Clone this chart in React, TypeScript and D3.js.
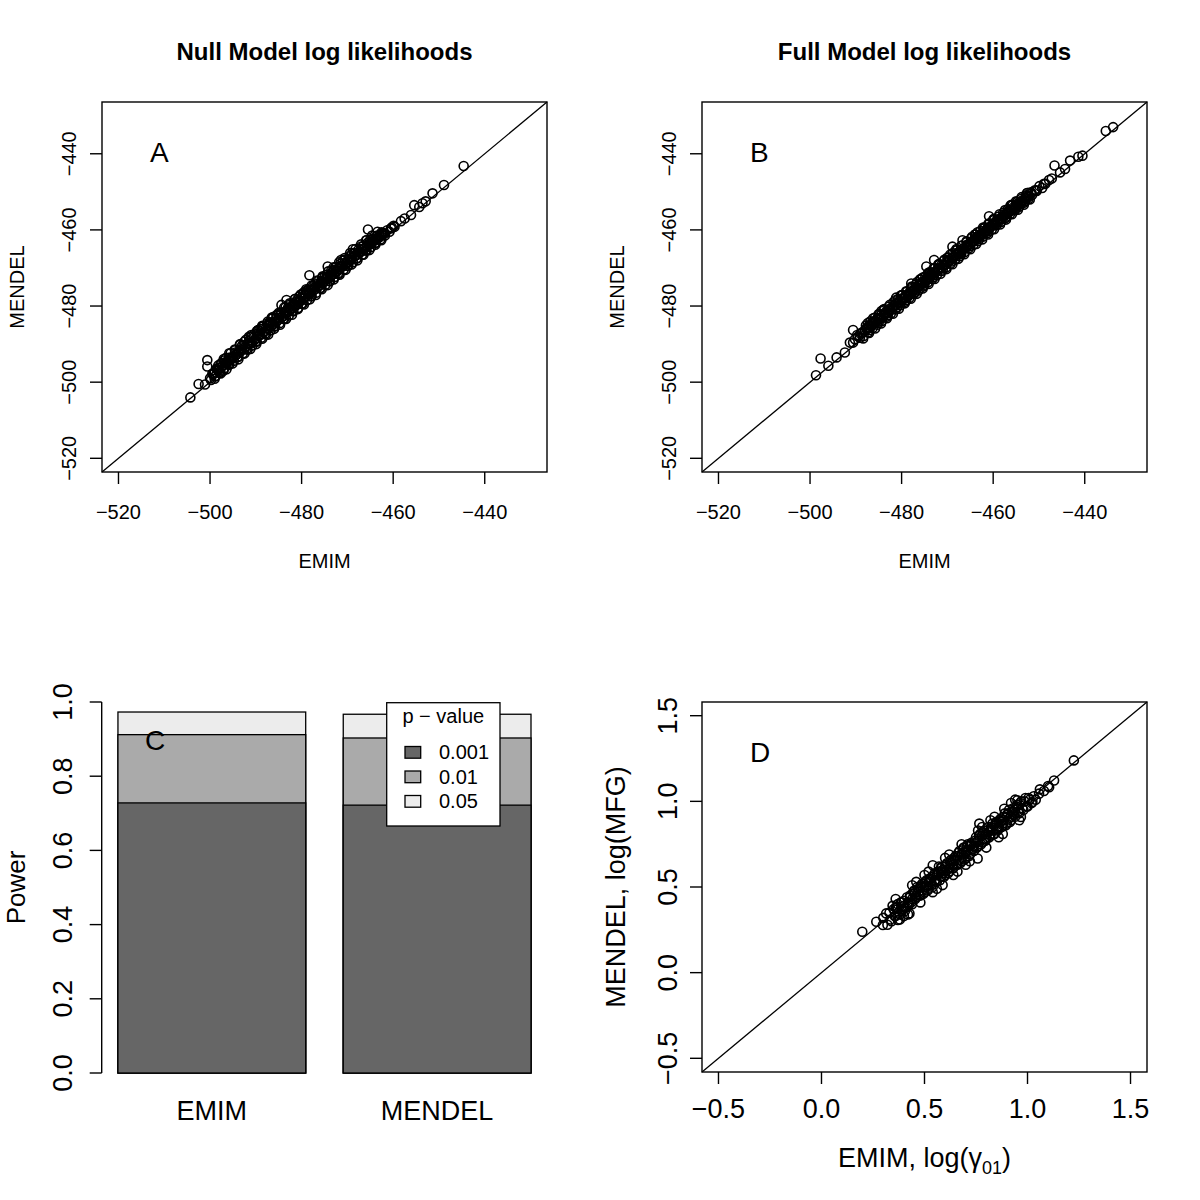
import React from "react";
import * as d3 from "d3";

// Panel A: null model log likelihoods (EMIM vs MENDEL)
const nullEmim = [
  -504.3, -502.5, -500.6, -500.6, -501.1, -500.0, -498.2, -498.9, -497.1, -495.6,
  -484.4, -483.3, -481.8, -479.7, -478.3, -474.3, -471.4, -468.8, -465.5, -465.9,
  -463.0, -461.9, -459.7, -457.5, -456.1, -455.4, -454.3, -453.6, -452.9, -451.4,
  -448.9, -444.6,
  -499.5, -499.0, -498.6, -498.1, -497.7, -497.2, -496.8, -496.3, -495.9, -495.4,
  -495.0, -494.5, -494.1, -493.6, -493.2, -492.7, -492.3, -491.8, -491.4, -490.9,
  -490.5, -490.0, -489.6, -489.1, -488.7, -488.2, -487.8, -487.3, -486.9, -486.4,
  -486.0, -485.5, -485.1, -484.6, -484.2, -483.7, -483.3, -482.8, -482.4, -481.9,
  -481.5, -481.0, -480.6, -480.1, -479.7, -479.2, -478.8, -478.3, -477.9, -477.4,
  -477.0, -476.5, -476.1, -475.6, -475.2, -474.7, -474.3, -473.8, -473.4, -472.9,
  -472.5, -472.0, -471.6, -471.1, -470.7, -470.2, -469.8, -469.3, -468.9, -468.4,
  -468.0, -467.5, -467.1, -466.6, -466.2, -465.7, -465.3, -464.8, -464.4, -463.9,
  -463.5, -463.0, -462.6, -462.1,
  -498.0, -496.0, -494.0, -492.0, -490.0, -488.0, -486.0, -484.0, -482.0, -480.0,
  -478.0, -476.0, -474.0, -472.0, -470.0, -468.0, -466.0, -464.0, -497.0, -493.0,
  -489.0, -485.0, -481.0, -477.0, -473.0, -469.0, -465.0, -491.0, -487.0, -483.0,
  -479.0, -475.0, -471.0, -467.0, -486.5, -489.5,
  -497.5, -496.5, -495.5, -494.5, -493.5, -492.5, -491.5, -490.5, -489.5, -488.5,
  -487.5, -486.5, -485.5, -484.5, -483.5, -482.5, -481.5, -480.5, -479.5, -478.5,
  -477.5, -476.5, -475.5, -474.5, -473.5, -472.5, -471.5, -470.5, -469.5, -468.5,
  -467.5, -466.5, -465.5, -464.5, -463.5, -462.5, -499.2, -497.9, -496.6, -495.3,
  -499.8, -498.8, -497.8, -496.8, -495.8, -494.8, -493.8, -492.8, -491.8, -490.8,
  -489.8, -488.8, -487.8, -486.8, -485.8, -484.8, -483.8, -482.8, -481.8, -480.8,
  -479.8, -478.8, -477.8, -476.8, -475.8, -474.8, -473.8, -472.8, -471.8, -470.8,
  -469.8, -468.8, -467.8, -466.8, -465.8, -464.8, -463.8, -462.8, -461.8, -460.8,
  -498.4, -496.1, -493.9, -491.6, -489.3, -487.1, -484.9, -482.6, -480.4, -478.1,
  -475.9, -473.6, -471.4, -469.1, -466.9, -464.6, -462.4, -460.5, -459.9, -458.3,
  -499.3, -498.3, -497.3, -496.3, -495.3, -494.3, -493.3, -492.3, -491.3, -490.3,
  -489.3, -488.3, -487.3, -486.3, -485.3, -484.3, -483.3, -482.3, -481.3, -480.3,
  -479.3, -478.3, -477.3, -476.3, -475.3, -474.3, -473.3, -472.3, -471.3, -470.3,
  -469.3, -468.3, -467.3, -466.3, -465.3, -464.3, -463.3, -462.3, -461.3, -460.3,
  -497.0, -495.8, -494.6, -493.4, -492.2, -491.0, -489.8, -488.6, -487.4, -486.2,
  -485.0, -483.8, -482.6, -481.4, -480.2, -479.0, -477.8, -476.6, -475.4, -474.2,
  -473.0, -471.8, -470.6, -469.4, -468.2, -467.0, -465.8, -464.6, -463.4,
  -499.0, -497.7, -496.4, -495.1, -493.8, -492.5, -491.2, -489.9, -488.6, -487.3,
  -486.0, -484.7, -483.4, -482.1, -480.8, -479.5, -478.2, -476.9, -475.6, -474.3,
  -473.0, -471.7, -470.4, -469.1, -467.8, -466.5, -465.2, -463.9, -462.6,
];
const nullMendel = [
  -504.0, -500.5, -494.2, -495.9, -500.6, -499.0, -495.6, -498.5, -497.0, -493.6,
  -479.7, -478.4, -479.3, -476.7, -471.9, -469.6, -467.9, -465.1, -459.9, -462.7,
  -461.4, -461.0, -459.2, -457.0, -456.1, -453.5, -454.0, -453.0, -452.5, -450.4,
  -448.2, -443.2,
  -497.8, -497.6, -496.5, -496.9, -495.2, -495.6, -494.9, -494.8, -493.6, -494.0,
  -493.3, -492.2, -492.6, -491.9, -491.4, -490.3, -490.9, -489.9, -489.0, -489.5,
  -488.3, -488.6, -487.2, -487.6, -486.1, -486.7, -485.9, -485.1, -484.6, -484.9,
  -484.1, -483.2, -483.6, -482.4, -482.8, -481.5, -481.9, -480.6, -481.0, -479.9,
  -479.6, -478.8, -479.0, -477.9, -478.1, -477.0, -476.3, -476.6, -475.8, -475.4,
  -475.0, -474.2, -474.5, -473.4, -473.6, -472.8, -472.2, -472.3, -471.2, -471.5,
  -470.9, -470.3, -469.8, -469.6, -468.7, -468.9, -467.8, -467.9, -467.2, -466.9,
  -466.6, -465.8, -465.8, -465.0, -464.9, -464.3, -463.7, -463.6, -462.9, -462.7,
  -462.4, -461.9, -461.2, -460.9,
  -497.3, -495.2, -493.4, -491.3, -489.3, -487.3, -485.4, -483.4, -481.3, -479.4,
  -477.4, -475.3, -473.4, -471.4, -469.4, -467.5, -465.4, -463.5, -494.3, -490.4,
  -486.0, -482.2, -478.4, -474.1, -470.5, -466.3, -462.6, -488.1, -484.3, -480.5,
  -476.0, -472.3, -468.1, -464.4, -483.0, -486.4,
  -495.0, -493.6, -492.4, -491.6, -490.2, -489.4, -488.1, -487.6, -486.3, -485.4,
  -484.6, -483.3, -482.4, -481.7, -480.3, -479.6, -478.2, -477.5, -476.4, -475.6,
  -474.7, -473.5, -472.6, -471.8, -470.6, -469.7, -468.9, -467.8, -466.9, -466.0,
  -465.1, -464.2, -463.3, -462.3, -461.5, -460.6, -497.7, -496.2, -495.0, -493.8,
  -499.4, -498.4, -497.5, -496.3, -495.4, -494.4, -493.3, -492.4, -491.5, -490.4,
  -489.4, -488.3, -487.5, -486.4, -485.3, -484.5, -483.4, -482.5, -481.4, -480.5,
  -479.4, -478.5, -477.4, -476.5, -475.3, -474.4, -473.5, -472.4, -471.5, -470.4,
  -469.4, -468.5, -467.4, -466.5, -465.4, -464.5, -463.4, -462.5, -461.5, -460.5,
  -496.7, -494.3, -492.2, -489.7, -487.6, -485.2, -483.1, -480.8, -478.5, -476.4,
  -474.0, -471.9, -469.5, -467.4, -465.0, -462.9, -460.9, -459.6, -458.9, -457.7,
  -497.9, -496.7, -495.8, -494.9, -493.7, -492.8, -491.9, -490.7, -489.8, -488.9,
  -487.7, -486.8, -485.9, -484.7, -483.8, -482.9, -481.7, -480.8, -479.9, -478.7,
  -477.8, -476.9, -475.7, -474.8, -473.9, -472.7, -471.8, -470.9, -469.7, -468.8,
  -467.9, -466.7, -465.8, -464.9, -463.7, -462.9, -462.0, -461.0, -460.1, -459.4,
  -493.9, -492.4, -491.4, -490.0, -488.9, -487.6, -486.6, -485.2, -484.1, -482.9,
  -481.8, -480.4, -479.3, -478.1, -477.0, -475.6, -474.6, -473.3, -472.2, -470.9,
  -469.8, -468.5, -467.4, -466.1, -465.0, -463.8, -462.7, -461.5, -460.5,
  -499.1, -497.7, -496.6, -495.1, -494.0, -492.5, -491.3, -490.0, -488.6, -487.5,
  -486.0, -484.9, -483.4, -482.3, -480.8, -479.6, -478.2, -477.1, -475.6, -474.5,
  -473.0, -471.8, -470.5, -469.1, -468.0, -466.5, -465.3, -463.9, -462.7,
];

// Panel B: full model log likelihoods
const fullEmim = [
  -498.7, -497.7, -496.0, -494.2, -492.4, -490.6, -490.6, -489.1, -487.7, -486.2,
  -484.4, -481.2, -477.9, -474.6, -472.9, -468.9, -466.7, -460.9, -452.5, -449.3,
  -447.8, -446.6, -445.4, -444.3, -443.2, -441.4, -440.5, -435.4, -433.8, -451.5,
  -450.5, -448.6,
  -488.0, -487.5, -487.1, -486.6, -486.2, -485.7, -485.3, -484.8, -484.4, -483.9,
  -483.5, -483.0, -482.6, -482.1, -481.7, -481.2, -480.8, -480.3, -479.9, -479.4,
  -479.0, -478.5, -478.1, -477.6, -477.2, -476.7, -476.3, -475.8, -475.4, -474.9,
  -474.5, -474.0, -473.6, -473.1, -472.7, -472.2, -471.8, -471.3, -470.9, -470.4,
  -470.0, -469.5, -469.1, -468.6, -468.2, -467.7, -467.3, -466.8, -466.4, -465.9,
  -465.5, -465.0, -464.6, -464.1, -463.7, -463.2, -462.8, -462.3, -461.9, -461.4,
  -461.0, -460.5, -460.1, -459.6, -459.2, -458.7, -458.3, -457.8, -457.4, -456.9,
  -456.5, -456.0, -455.6, -455.1, -454.7, -454.2, -453.8, -453.3, -452.9, -452.4,
  -487.0, -485.0, -483.0, -481.0, -479.0, -477.0, -475.0, -473.0, -471.0, -469.0,
  -467.0, -465.0, -463.0, -461.0, -459.0, -457.0, -455.0, -453.0, -484.0, -480.0,
  -476.0, -472.0, -468.0, -464.0, -460.0, -456.0, -478.0, -470.0, -462.0, -474.0,
  -487.8, -486.8, -485.8, -484.8, -483.8, -482.8, -481.8, -480.8, -479.8, -478.8,
  -477.8, -476.8, -475.8, -474.8, -473.8, -472.8, -471.8, -470.8, -469.8, -468.8,
  -467.8, -466.8, -465.8, -464.8, -463.8, -462.8, -461.8, -460.8, -459.8, -458.8,
  -457.8, -456.8, -455.8, -454.8, -453.8, -452.8, -451.8, -450.9, -449.9, -448.9,
  -488.3, -487.3, -486.3, -485.3, -484.3, -483.3, -482.3, -481.3, -480.3, -479.3,
  -478.3, -477.3, -476.3, -475.3, -474.3, -473.3, -472.3, -471.3, -470.3, -469.3,
  -468.3, -467.3, -466.3, -465.3, -464.3, -463.3, -462.3, -461.3, -460.3, -459.3,
  -458.3, -457.3, -456.3, -455.3, -454.3, -453.3, -452.3, -489.5, -489.0, -488.6,
  -487.2, -485.1, -482.9, -480.7, -478.6, -476.4, -474.2, -472.1, -469.9, -467.7,
  -465.6, -463.4, -461.2, -459.1, -456.9, -454.7, -452.6, -491.3, -490.2, -489.7,
  -488.6, -487.6, -486.6, -485.6, -484.6, -483.6, -482.6, -481.6, -480.6, -479.6,
  -478.6, -477.6, -476.6, -475.6, -474.6, -473.6, -472.6, -471.6, -470.6, -469.6,
  -468.6, -467.6, -466.6, -465.6, -464.6, -463.6, -462.6, -461.6, -460.6, -459.6,
  -458.6, -457.6, -456.6, -455.6, -454.6, -453.6, -452.6, -451.6, -450.6, -447.2,
  -487.4, -486.2, -485.0, -483.8, -482.6, -481.4, -480.2, -479.0, -477.8, -476.6,
  -475.4, -474.2, -473.0, -471.8, -470.6, -469.4, -468.2, -467.0, -465.8, -464.6,
  -463.4, -462.2, -461.0, -459.8, -458.6, -457.4, -456.2, -455.0, -453.8, -452.6,
  -488.4, -487.1, -485.8, -484.5, -483.2, -481.9, -480.6, -479.3, -478.0, -476.7,
  -475.4, -474.1, -472.8, -471.5, -470.2, -468.9, -467.6, -466.3, -465.0, -463.7,
  -462.4, -461.1, -459.8, -458.5, -457.2, -455.9, -454.6, -453.3, -452.0,
];
const fullMendel = [
  -498.2, -493.8, -495.7, -493.5, -492.2, -486.3, -489.6, -488.3, -485.9, -484.3,
  -481.3, -477.8, -474.1, -469.6, -467.9, -464.4, -462.7, -456.4, -450.3, -449.0,
  -446.9, -443.1, -444.9, -444.0, -441.8, -440.8, -440.5, -434.0, -433.0, -450.8,
  -449.8, -447.9,
  -486.3, -486.0, -485.0, -485.2, -484.1, -484.3, -483.2, -483.5, -482.3, -482.6,
  -481.6, -481.8, -480.7, -480.9, -479.9, -479.6, -479.1, -478.9, -478.0, -478.1,
  -477.2, -477.3, -476.2, -476.3, -475.6, -475.2, -474.6, -474.5, -473.6, -473.7,
  -472.7, -472.8, -471.8, -471.9, -471.0, -470.6, -470.2, -469.9, -469.3, -469.1,
  -468.2, -468.1, -467.4, -467.1, -466.6, -466.4, -465.6, -465.5, -464.8, -464.6,
  -463.8, -463.8, -463.0, -462.8, -462.2, -461.9, -461.5, -461.0, -460.6, -460.3,
  -459.6, -459.2, -458.8, -458.2, -458.0, -457.3, -457.1, -456.5, -456.2, -455.6,
  -455.3, -454.8, -454.5, -453.9, -453.6, -453.0, -452.8, -452.2, -451.7, -451.4,
  -486.3, -484.4, -482.4, -480.3, -478.4, -476.3, -474.4, -472.4, -470.4, -468.3,
  -466.4, -464.3, -462.4, -460.4, -458.4, -456.5, -454.4, -452.5, -481.0, -477.1,
  -473.0, -469.1, -465.0, -461.2, -457.3, -453.4, -475.6, -467.3, -459.6, -471.5,
  -485.1, -484.0, -483.0, -482.1, -481.0, -480.2, -479.0, -478.2, -477.1, -476.2,
  -475.1, -474.2, -473.0, -472.2, -471.1, -470.1, -469.2, -468.1, -467.2, -466.1,
  -465.2, -464.1, -463.2, -462.2, -461.2, -460.3, -459.3, -458.3, -457.4, -456.5,
  -455.5, -454.6, -453.6, -452.7, -451.8, -450.9, -450.1, -449.6, -448.5, -447.9,
  -487.9, -486.9, -485.8, -484.9, -483.9, -482.8, -481.9, -480.9, -479.8, -478.9,
  -477.9, -476.8, -475.9, -474.9, -473.8, -472.9, -471.9, -470.8, -469.9, -468.9,
  -467.8, -466.9, -465.9, -464.8, -463.9, -462.9, -461.8, -460.9, -459.9, -458.8,
  -457.9, -456.9, -455.8, -454.9, -453.9, -452.9, -451.9, -488.0, -487.2, -486.9,
  -485.5, -483.3, -481.2, -478.9, -476.9, -474.6, -472.5, -470.3, -468.2, -466.0,
  -463.9, -461.7, -459.5, -457.4, -455.2, -453.1, -451.0, -489.6, -488.7, -487.6,
  -487.1, -486.0, -485.1, -484.0, -483.1, -482.0, -481.1, -480.0, -479.1, -478.0,
  -477.1, -476.0, -475.1, -474.0, -473.1, -472.0, -471.1, -470.0, -469.1, -468.0,
  -467.1, -466.0, -465.1, -464.0, -463.1, -462.0, -461.1, -460.0, -459.1, -458.0,
  -457.1, -456.0, -455.1, -454.1, -453.2, -452.2, -451.3, -450.4, -449.6, -446.5,
  -484.5, -483.2, -482.1, -480.8, -479.7, -478.5, -477.3, -476.1, -474.9, -473.7,
  -472.5, -471.3, -470.1, -468.9, -467.8, -466.5, -465.4, -464.2, -463.0, -461.8,
  -460.6, -459.4, -458.3, -457.1, -455.9, -454.8, -453.6, -452.5, -451.4, -450.3,
  -488.5, -487.1, -485.9, -484.6, -483.2, -482.0, -480.7, -479.3, -478.1, -476.8,
  -475.4, -474.2, -472.9, -471.5, -470.3, -469.0, -467.6, -466.4, -465.1, -463.7,
  -462.5, -461.2, -459.8, -458.6, -457.3, -455.9, -454.7, -453.4, -452.0,
];

// Panel D: log(gamma01) from EMIM vs log(MFG) from MENDEL
const mfgEmim = [
  0.198, 0.266, 0.298, 0.314, 0.371, 0.427, 0.419, 0.588, 0.540, 0.758,
  0.766, 0.887, 0.951, 0.968, 1.024, 1.056, 1.105, 1.129, 1.225, 1.03,
  1.06, 1.08, 1.10, 1.04,
  0.33, 0.34, 0.35, 0.36, 0.37, 0.38, 0.39, 0.40, 0.41, 0.42,
  0.43, 0.44, 0.45, 0.46, 0.47, 0.48, 0.49, 0.50, 0.51, 0.52,
  0.53, 0.54, 0.55, 0.56, 0.57, 0.58, 0.59, 0.60, 0.61, 0.62,
  0.63, 0.64, 0.65, 0.66, 0.67, 0.68, 0.69, 0.70, 0.71, 0.72,
  0.73, 0.74, 0.75, 0.76, 0.77, 0.78, 0.79, 0.80, 0.81, 0.82,
  0.83, 0.84, 0.85, 0.86, 0.87, 0.88, 0.89, 0.90, 0.91, 0.92,
  0.93, 0.94, 0.95, 0.96, 0.97, 0.98, 0.99, 1.00, 1.01, 1.02,
  0.36, 0.39, 0.42, 0.45, 0.48, 0.51, 0.54, 0.57, 0.60, 0.63,
  0.66, 0.69, 0.72, 0.75, 0.78, 0.81, 0.84, 0.87, 0.90, 0.93,
  0.44, 0.50, 0.56, 0.62, 0.68, 0.74, 0.80, 0.86, 0.92, 0.58,
  0.64, 0.70, 0.76, 0.82, 0.88, 0.47, 0.53, 0.59, 0.65, 0.71,
  0.335, 0.345, 0.355, 0.365, 0.375, 0.385, 0.395, 0.405, 0.415, 0.425,
  0.435, 0.445, 0.455, 0.465, 0.475, 0.485, 0.495, 0.505, 0.515, 0.525,
  0.535, 0.545, 0.555, 0.565, 0.575, 0.585, 0.595, 0.605, 0.615, 0.625,
  0.635, 0.645, 0.655, 0.665, 0.675, 0.685, 0.695, 0.705, 0.715, 0.725,
  0.735, 0.745, 0.755, 0.765, 0.775, 0.785, 0.795, 0.805, 0.815, 0.825,
  0.835, 0.845, 0.855, 0.865, 0.875, 0.885, 0.895, 0.905, 0.915, 0.925,
  0.935, 0.945, 0.955, 0.965, 0.975, 0.985, 0.995, 1.005, 0.30, 0.32,
  0.37, 0.40, 0.43, 0.46, 0.49, 0.52, 0.55, 0.58, 0.61, 0.64,
  0.67, 0.70, 0.73, 0.76, 0.79, 0.82, 0.85, 0.88, 0.91, 0.94,
  0.36, 0.40, 0.44, 0.48, 0.52, 0.56, 0.60, 0.64, 0.68, 0.72,
  0.76, 0.80, 0.84, 0.88, 0.92, 0.96, 0.38, 0.46, 0.54, 0.62,
  0.70, 0.78, 0.86, 0.94, 0.50, 0.66, 0.82,
];
const mfgMendel = [
  0.239, 0.297, 0.278, 0.346, 0.307, 0.346, 0.384, 0.511, 0.627, 0.666,
  0.870, 0.957, 1.006, 0.909, 0.996, 1.045, 1.083, 1.122, 1.239, 1.03,
  1.07, 1.06, 1.09, 1.01,
  0.35, 0.30, 0.37, 0.33, 0.40, 0.34, 0.36, 0.42, 0.38, 0.34,
  0.45, 0.40, 0.48, 0.44, 0.49, 0.45, 0.52, 0.47, 0.54, 0.49,
  0.55, 0.50, 0.58, 0.53, 0.62, 0.56, 0.60, 0.57, 0.64, 0.59,
  0.66, 0.61, 0.68, 0.63, 0.71, 0.65, 0.73, 0.67, 0.75, 0.69,
  0.76, 0.71, 0.79, 0.74, 0.81, 0.76, 0.83, 0.78, 0.85, 0.80,
  0.87, 0.81, 0.88, 0.84, 0.90, 0.86, 0.93, 0.87, 0.95, 0.89,
  0.96, 0.91, 0.98, 0.93, 1.00, 0.95, 1.02, 0.97, 1.01, 0.99,
  0.38, 0.41, 0.41, 0.46, 0.50, 0.51, 0.56, 0.58, 0.62, 0.64,
  0.68, 0.70, 0.74, 0.76, 0.80, 0.82, 0.86, 0.88, 0.92, 0.94,
  0.43, 0.50, 0.57, 0.61, 0.69, 0.74, 0.81, 0.85, 0.91, 0.61,
  0.63, 0.70, 0.77, 0.83, 0.87, 0.47, 0.53, 0.58, 0.66, 0.71,
  0.31, 0.39, 0.33, 0.38, 0.35, 0.41, 0.37, 0.36, 0.44, 0.40,
  0.41, 0.47, 0.43, 0.50, 0.45, 0.51, 0.46, 0.53, 0.48, 0.55,
  0.51, 0.57, 0.53, 0.59, 0.54, 0.62, 0.56, 0.63, 0.58, 0.65,
  0.61, 0.67, 0.63, 0.70, 0.64, 0.72, 0.66, 0.74, 0.68, 0.75,
  0.72, 0.77, 0.73, 0.80, 0.75, 0.82, 0.77, 0.83, 0.79, 0.85,
  0.81, 0.87, 0.83, 0.89, 0.85, 0.91, 0.86, 0.93, 0.88, 0.94,
  0.92, 0.97, 0.94, 0.99, 0.96, 1.00, 0.97, 1.02, 0.32, 0.28,
  0.37, 0.39, 0.44, 0.45, 0.48, 0.53, 0.54, 0.59, 0.60, 0.65,
  0.66, 0.71, 0.72, 0.77, 0.78, 0.83, 0.84, 0.89, 0.90, 0.95,
  0.43, 0.33, 0.51, 0.41, 0.59, 0.49, 0.67, 0.57, 0.75, 0.65,
  0.83, 0.73, 0.91, 0.81, 0.99, 0.89, 0.31, 0.53, 0.47, 0.69,
  0.63, 0.85, 0.79, 1.01, 0.57, 0.59, 0.89,
];

// Panel C: power at each p-value threshold
const methods = ["EMIM", "MENDEL"];
const pLevels = ["0.001", "0.01", "0.05"];
const powerEmim = [0.728, 0.912, 0.973];
const powerMendel = [0.722, 0.903, 0.967];
const greys = ["#666666", "#aaaaaa", "#ececec"];

const llTicks = [-520, -500, -480, -460, -440];
const llLim = [-520, -430];
const logTicks = [-0.5, 0, 0.5, 1, 1.5];
const logLim = [-0.5, 1.5];
const powerTicks = [0, 0.2, 0.4, 0.6, 0.8, 1];

const FONT = "'Liberation Sans', Arial, Helvetica, sans-serif";
const fmtNum = (v: number, digits: number) =>
  v.toFixed(digits).replace("-", "\u2212");

// R-style 4% axis extension
const extend = (lim: number[]) => {
  const d = (lim[1] - lim[0]) * 0.04;
  return [lim[0] - d, lim[1] + d];
};

function Scatter(props: any) {
  const { x0, x1, y0, y1, xs, ys, lim, ticks, digits, fs, letter, title,
    xLabel, yLabel, tickOff, labOff } = props;
  const dom = extend(lim);
  const x = d3.scaleLinear().domain(dom).range([x0, x1]);
  const y = d3.scaleLinear().domain(dom).range([y1, y0]);
  const cx = (x0 + x1) / 2;
  const cy = (y0 + y1) / 2;
  return (
    <g>
      {title && (
        <text x={cx} y={60} textAnchor="middle" fontWeight="bold" fontSize={24}>
          {title}
        </text>
      )}
      <line x1={x(dom[0])} y1={y(dom[0])} x2={x(dom[1])} y2={y(dom[1])}
        stroke="#000" strokeWidth={1.3} />
      {xs.map((v: number, i: number) => (
        <circle key={i} cx={x(v)} cy={y(ys[i])} r={4.5} fill="none"
          stroke="#000" strokeWidth={1.6} />
      ))}
      <rect x={x0} y={y0} width={x1 - x0} height={y1 - y0} fill="none"
        stroke="#000" strokeWidth={1.4} />
      {ticks.map((t: number) => (
        <g key={"x" + t}>
          <line x1={x(t)} x2={x(t)} y1={y1} y2={y1 + 12} stroke="#000" strokeWidth={1.4} />
          <text x={x(t)} y={y1 + tickOff} textAnchor="middle" fontSize={fs}>
            {fmtNum(t, digits)}
          </text>
        </g>
      ))}
      {ticks.map((t: number) => (
        <g key={"y" + t}>
          <line x1={x0 - 12} x2={x0} y1={y(t)} y2={y(t)} stroke="#000" strokeWidth={1.4} />
          <text transform={`translate(${x0 - tickOff + 21},${y(t)}) rotate(-90)`}
            textAnchor="middle" fontSize={fs}>
            {fmtNum(t, digits)}
          </text>
        </g>
      ))}
      <text x={cx} y={y1 + labOff} textAnchor="middle" fontSize={fs}>
        {xLabel}
      </text>
      <text transform={`translate(${x0 - labOff + 18},${cy}) rotate(-90)`}
        textAnchor="middle" fontSize={fs}>
        {yLabel}
      </text>
      <text x={x0 + 48} y={y0 + 60} fontSize={28}>{letter}</text>
    </g>
  );
}

function PowerBars() {
  const x = d3.scaleBand().domain(methods).range([80.4, 531])
    .paddingInner(1 / 6).paddingOuter(1 / 12).align(1);
  const y = d3.scaleLinear().domain([0, 1]).range([1073, 702]);
  const series = [powerEmim, powerMendel];
  return (
    <g>
      {methods.map((m, mi) => (
        <g key={m}>
          {[2, 1, 0].map((k) => (
            <rect key={k} x={x(m)} y={y(series[mi][k])} width={x.bandwidth()}
              height={y(0) - y(series[mi][k])} fill={greys[k]} stroke="#000"
              strokeWidth={1.3} />
          ))}
          <text x={(x(m) as number) + x.bandwidth() / 2} y={1120} textAnchor="middle"
            fontSize={27}>{m}</text>
        </g>
      ))}
      <line x1={101.7} x2={101.7} y1={y(0)} y2={y(1)} stroke="#000" strokeWidth={1.4} />
      {powerTicks.map((t) => (
        <g key={t}>
          <line x1={89.7} x2={101.7} y1={y(t)} y2={y(t)} stroke="#000" strokeWidth={1.4} />
          <text transform={`translate(72,${y(t)}) rotate(-90)`} textAnchor="middle"
            fontSize={27}>{t.toFixed(1)}</text>
        </g>
      ))}
      <text transform={`translate(25,${(y(0) + y(1)) / 2}) rotate(-90)`}
        textAnchor="middle" fontSize={26}>Power</text>
      <text x={145} y={750} fontSize={28}>C</text>
      <g>
        <rect x={386.7} y={702.7} width={113.3} height={123.3} fill="#fff"
          stroke="#000" strokeWidth={1.3} />
        <text x={443.3} y={723} textAnchor="middle" fontSize={20}>p {"\u2212"} value</text>
        {pLevels.map((p, i) => (
          <g key={p}>
            <rect x={405} y={746.5 + i * 24.5} width={15.7} height={11.7}
              fill={greys[i]} stroke="#000" strokeWidth={1.3} />
            <text x={439} y={759 + i * 24.5} fontSize={20}>{p}</text>
          </g>
        ))}
      </g>
    </g>
  );
}

export default function App() {
  return (
    <svg width={1200} height={1200} viewBox="0 0 1200 1200"
      style={{ position: "absolute", left: 0, top: 0, background: "#fff" }}
      fontFamily={FONT}>
      <rect width={1200} height={1200} fill="#fff" />
      <Scatter x0={102} x1={547} y0={102} y1={472} xs={nullEmim} ys={nullMendel}
        lim={llLim} ticks={llTicks} digits={0} fs={20} letter="A"
        title="Null Model log likelihoods" xLabel="EMIM" yLabel="MENDEL"
        tickOff={47} labOff={96} />
      <Scatter x0={702} x1={1147} y0={102} y1={472} xs={fullEmim} ys={fullMendel}
        lim={llLim} ticks={llTicks} digits={0} fs={20} letter="B"
        title="Full Model log likelihoods" xLabel="EMIM" yLabel="MENDEL"
        tickOff={47} labOff={96} />
      <PowerBars />
      <Scatter x0={702} x1={1147} y0={702} y1={1072} xs={mfgEmim} ys={mfgMendel}
        lim={logLim} ticks={logTicks} digits={1} fs={27} letter="D"
        xLabel={
          <>
            EMIM, log({"\u03b3"}
            <tspan dy={7} fontSize={18}>01</tspan>
            <tspan dy={-7}>)</tspan>
          </>
        }
        yLabel="MENDEL, log(MFG)" tickOff={46} labOff={95} />
    </svg>
  );
}
